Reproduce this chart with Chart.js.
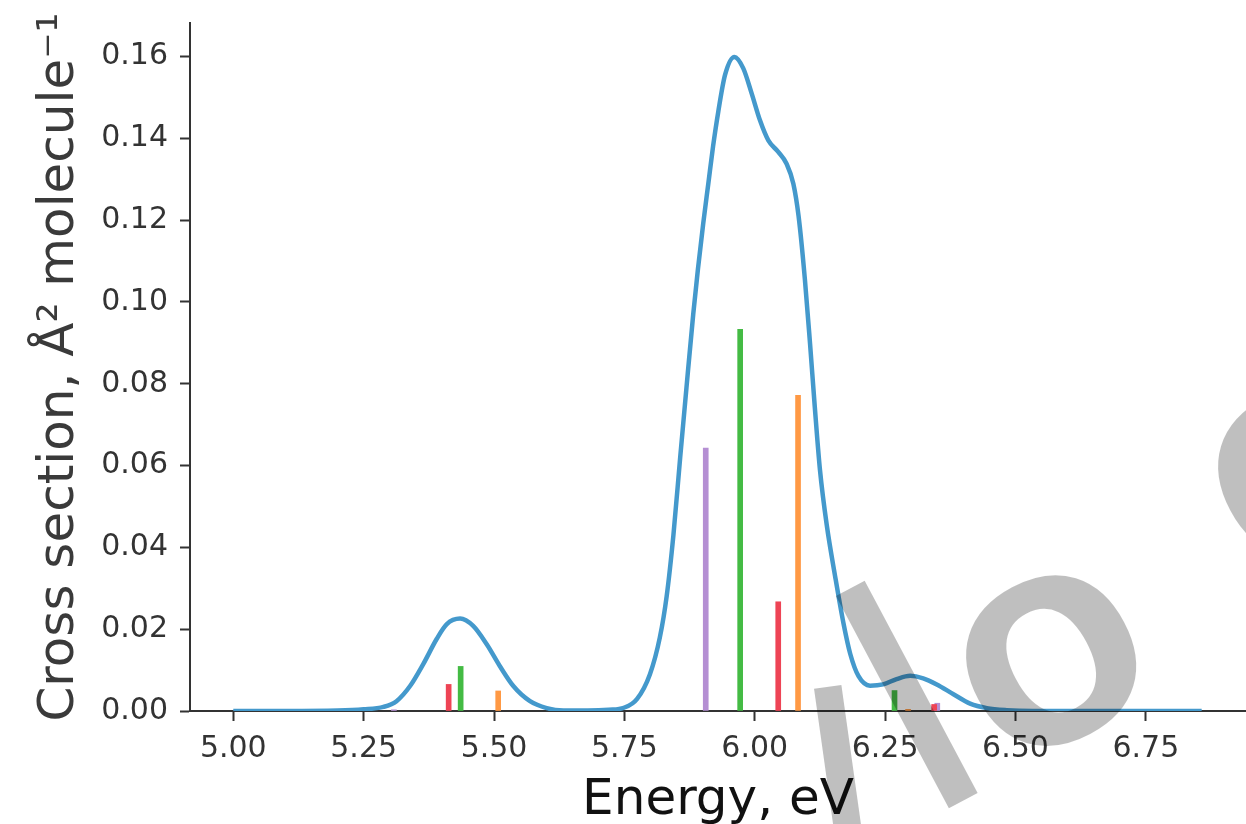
<!DOCTYPE html>
<html>
<head>
<meta charset="utf-8">
<script src="https://cdn.jsdelivr.net/npm/chart.js@4.4.1/dist/chart.umd.min.js"></script>
<style>
  html, body { margin: 0; padding: 0; background: #fff; }
  #wrap { width: 1246px; height: 824px; position: relative; }
</style>
</head>
<body>
<div id="wrap"><canvas id="chart"></canvas></div>
<script>
// Broadened spectrum (energy in eV, cross section)
const curveX = [5.00, 5.10, 5.20, 5.25, 5.288, 5.313, 5.339, 5.364, 5.390, 5.409, 5.435, 5.460, 5.486, 5.511, 5.537, 5.569, 5.601, 5.633, 5.68, 5.72,
  5.749, 5.774, 5.799, 5.818, 5.831, 5.844, 5.857, 5.869, 5.882, 5.891, 5.901, 5.911, 5.920, 5.930, 5.943, 5.961, 5.978, 5.994, 6.010, 6.026, 6.045,
  6.061, 6.074, 6.084, 6.096, 6.106, 6.115, 6.125, 6.138, 6.154, 6.170, 6.183, 6.199, 6.221, 6.246, 6.272, 6.298, 6.323, 6.349, 6.381, 6.413,
  6.445, 6.483, 6.533, 6.60, 6.70, 6.80, 6.857];
const curveY = [0, 0, 0.0001, 0.0004, 0.0010, 0.0024, 0.0061, 0.0114, 0.0176, 0.0212, 0.0226, 0.0208, 0.0163, 0.0110, 0.0061, 0.0024, 0.0007, 0.0001, 0.0001, 0.0003,
  0.0008, 0.0029, 0.0090, 0.0180, 0.0280, 0.0430, 0.0620, 0.0790, 0.0970, 0.1080, 0.1190, 0.1290, 0.1380, 0.1465, 0.1555, 0.1599, 0.1571, 0.1510, 0.1444, 0.1395, 0.1367,
  0.1338, 0.1289, 0.1210, 0.1057, 0.0898, 0.0745, 0.0590, 0.0455, 0.0330, 0.0215, 0.0140, 0.0085, 0.0062, 0.0065, 0.0078, 0.0086, 0.0080, 0.0065, 0.0041, 0.0018,
  0.0007, 0.0002, 0, 0, 0, 0, 0];

// Stick transitions, one array per colour
const redX = [5.413, 6.045, 6.344];
const redY = [0.0065, 0.0267, 0.0016];
const greenX = [5.436, 5.972, 6.268];
const greenY = [0.0109, 0.0933, 0.0050];
const orangeX = [5.508, 6.083, 6.294];
const orangeY = [0.0049, 0.0772, 0.0004];
const purpleX = [5.308, 5.906, 6.350];
const purpleY = [0.0003, 0.0643, 0.0019];

const xTicks = [5.00, 5.25, 5.50, 5.75, 6.00, 6.25, 6.50, 6.75];
const yTicks = [0.00, 0.02, 0.04, 0.06, 0.08, 0.10, 0.12, 0.14, 0.16];

const pts = (xs, ys) => xs.map((x, i) => ({ x: x, y: ys[i] }));

function sticks(label, xs, ys, color) {
  return {
    type: 'bar',
    label: label,
    data: pts(xs, ys),
    backgroundColor: color,
    barThickness: 5,
    grouped: false,
    borderWidth: 0
  };
}

// grey watermark letters drawn over everything
const watermark = {
  id: 'watermark',
  afterDraw(chart) {
    const ctx = chart.ctx;
    const put = (txt, font, x, y, deg) => {
      ctx.save();
      ctx.font = font;
      ctx.fillStyle = 'rgba(0,0,0,0.25)';
      ctx.translate(x, y);
      ctx.rotate(-deg * Math.PI / 180);
      ctx.textAlign = 'center';
      ctx.textBaseline = 'middle';
      ctx.fillText(txt, 0, 0);
      ctx.restore();
    };
    put('I', '280px "DejaVu Sans"', 846, 817, 8);
    put('I', '330px "DejaVu Sans"', 923, 725, 28);
    put('O', 'bold 220px "DejaVu Sans"', 1062, 681, 28);
    put('O', 'bold 220px "DejaVu Sans"', 1314, 492, 28);
  }
};

const tickFont = { family: 'DejaVu Sans', size: 30 };

new Chart(document.getElementById('chart'), {
  type: 'line',
  data: {
    datasets: [
      {
        label: 'Spectrum',
        data: pts(curveX, curveY),
        borderColor: '#4499cc',
        borderWidth: 4.5,
        pointRadius: 0,
        fill: false,
        cubicInterpolationMode: 'monotone'
      },
      sticks('S1', redX, redY, '#ee4455'),
      sticks('S2', greenX, greenY, '#44bb44'),
      sticks('S3', orangeX, orangeY, '#ff9944'),
      sticks('S4', purpleX, purpleY, '#b58fd3')
    ]
  },
  options: {
    responsive: true,
    maintainAspectRatio: false,
    animation: false,
    layout: { padding: { top: 23, right: 0, left: 0, bottom: 0 } },
    plugins: {
      legend: { display: false },
      tooltip: { enabled: false }
    },
    scales: {
      x: {
        type: 'linear',
        min: 4.917,
        max: 6.942,
        offset: false,
        afterBuildTicks: (scale) => { scale.ticks = xTicks.map(v => ({ value: v })); },
        afterFit: (scale) => { scale.height = 113; },
        grid: { display: true, offset: false, drawOnChartArea: false, drawTicks: true, tickLength: 10, tickWidth: 2, tickColor: '#333' },
        border: { display: true, color: '#333', width: 2 },
        ticks: {
          color: '#333',
          font: tickFont,
          padding: 10,
          maxRotation: 0,
          autoSkip: false,
          callback: (v) => Number(v).toFixed(2)
        },
        title: {
          display: true,
          text: 'Energy, eV',
          color: '#111',
          font: { family: 'DejaVu Sans', size: 50, lineHeight: 0.9 },
          padding: { top: 0, bottom: 0 }
        }
      },
      y: {
        min: 0,
        max: 0.1682,
        afterBuildTicks: (scale) => { scale.ticks = yTicks.map(v => ({ value: v })); },
        afterFit: (scale) => {
          scale.width = 190;
          scale.paddingTop = 0;
          scale.paddingBottom = 0;
        },
        grid: { display: true, drawOnChartArea: false, drawTicks: true, tickLength: 10, tickWidth: 2, tickColor: '#333' },
        border: { display: true, color: '#333', width: 2 },
        ticks: {
          color: '#333',
          font: tickFont,
          padding: 12,
          autoSkip: false,
          callback: (v) => Number(v).toFixed(2)
        },
        title: {
          display: true,
          text: 'Cross section, Å² molecule⁻¹',
          color: '#3a3a3a',
          font: { family: 'DejaVu Sans', size: 50 },
          padding: { top: 30, bottom: 0 }
        }
      }
    }
  },
  plugins: [watermark]
});
</script>
</body>
</html>
